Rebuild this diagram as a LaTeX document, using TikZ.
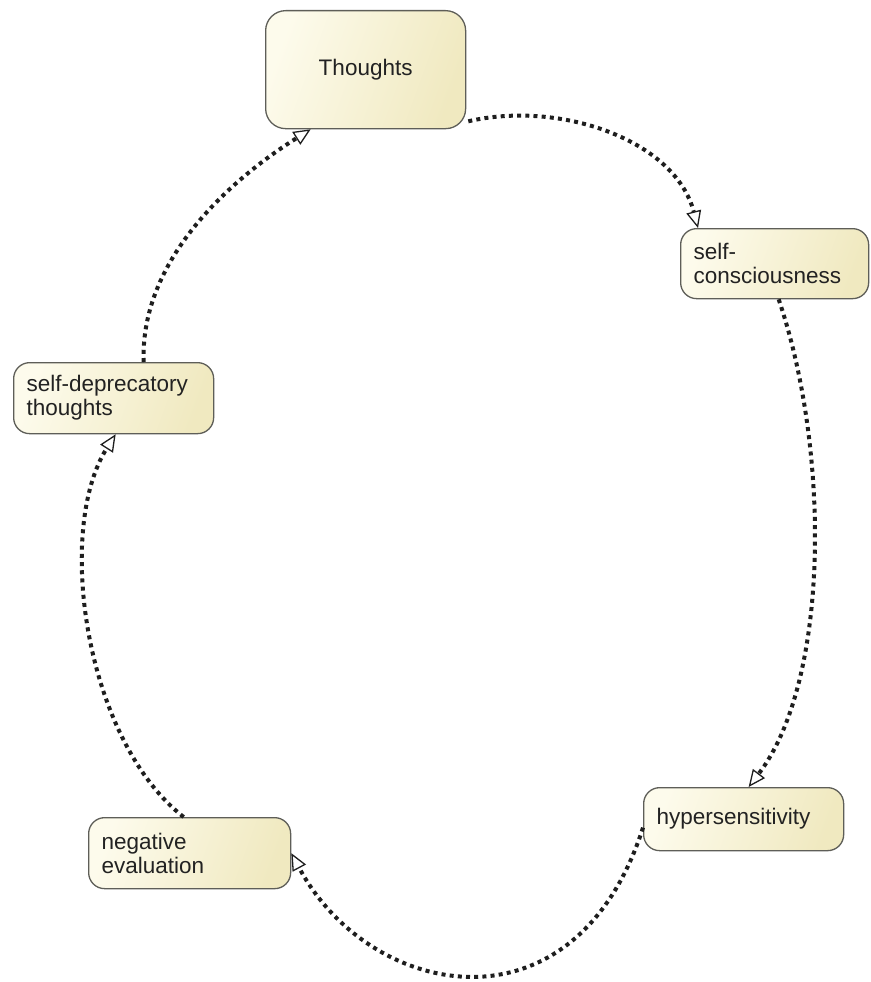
\documentclass[tikz,border=0pt]{standalone}
\usepackage{fontspec}
\setmainfont{Liberation Sans}
\usetikzlibrary{arrows.meta}
\definecolor{boxlight}{HTML}{FDFBEC}
\definecolor{boxdark}{HTML}{F0E9C0}
\definecolor{boxedge}{HTML}{5E5E58}
\definecolor{dotcol}{HTML}{1E1E1E}
\definecolor{textcol}{HTML}{222222}
\begin{document}
\begin{tikzpicture}[x=1pt,y=-1pt,
  stepbox/.style={rectangle, draw=boxedge, line width=1.3pt, rounded corners=16pt,
    left color=boxlight, right color=boxdark, shading angle=70,
    align=left, inner xsep=13pt, inner ysep=0pt, anchor=north west,
    font=\fontsize{22.5}{24}\selectfont, text=textcol},
  flow/.style={draw=dotcol, line width=4pt, dash pattern=on 4pt off 4.2pt,
    -{Triangle[open, fill=white, length=17pt, width=15pt, line width=1.3pt]}}]
  \useasboundingbox (0,0) rectangle (870,982);

  % the five stages of the cycle
  \node[stepbox, rounded corners=20pt, align=center, minimum width=200pt, text width=174pt, minimum height=118pt] (th) at (265,10) {Thoughts};
  \node[stepbox, minimum width=188pt, text width=162pt, minimum height=70pt] (sc) at (680,228) {self-\\consciousness};
  \node[stepbox, minimum width=200pt, text width=174pt, minimum height=63pt] (hy) at (643,787) {hypersensitivity};
  \node[stepbox, minimum width=202pt, text width=176pt, minimum height=71pt] (ne) at (88,817) {negative\\evaluation};
  \node[stepbox, minimum width=200pt, text width=174pt, minimum height=71pt] (sd) at (13,362) {self-deprecatory\\thoughts};

  % dotted connectors closing the loop
  \draw[flow] ([xshift=2pt,yshift=8pt]th.south east) .. controls (560,100) and (675,140) .. ([xshift=18pt]sc.north west);
  \draw[flow] ([xshift=4pt]sc.south) .. controls (830,450) and (830,680) .. ([xshift=5pt]hy.north);
  \draw[flow] ([yshift=-8.5pt]hy.west) .. controls (575,1040) and (370,1000) .. (ne.east);
  \draw[flow] ([xshift=-6pt]ne.north) .. controls (85,740) and (55,530) .. ([xshift=2pt]sd.south);
  \draw[flow] ([xshift=30pt]sd.north) .. controls (140,260) and (230,180) .. ([xshift=-55pt]th.south);
\end{tikzpicture}
\end{document}
